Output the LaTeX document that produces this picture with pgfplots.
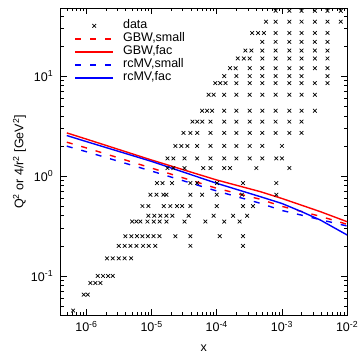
\documentclass[border=0pt]{standalone}
\usepackage{fontspec}
\setmainfont{Liberation Sans}
\usepackage{pgfplots}
\pgfplotsset{compat=1.18}
\pgfplotsset{
  lineleg/.style={legend image code/.code={\draw[##1, line width=1.8pt] (0pt,0pt) -- (38pt,0pt);}},
  markleg/.style={legend image code/.code={\draw[mark repeat=2,mark phase=2,##1] plot coordinates {(0pt,0pt) (19pt,0pt) (38pt,0pt)};}},
}
\begin{document}
\fontsize{12.5}{15}\selectfont
\begin{tikzpicture}
\begin{axis}[
  scale only axis, width=286.6pt, height=307.7pt,
  xmode=log, ymode=log,
  xmin=4e-7, xmax=1e-2, ymin=0.04, ymax=48,
  xtick={1e-6,1e-5,1e-4,1e-3,1e-2},
  xticklabels={10\textsuperscript{-6},10\textsuperscript{-5},10\textsuperscript{-4},10\textsuperscript{-3},10\textsuperscript{-2}},
  ytick={0.1,1,10},
  yticklabels={10\textsuperscript{-1},10\textsuperscript{0},10\textsuperscript{1}},
  minor xtick={5e-7,6e-7,7e-7,8e-7,9e-7,2e-6,3e-6,4e-6,5e-6,6e-6,7e-6,8e-6,9e-6,2e-5,3e-5,4e-5,5e-5,6e-5,7e-5,8e-5,9e-5,2e-4,3e-4,4e-4,5e-4,6e-4,7e-4,8e-4,9e-4,2e-3,3e-3,4e-3,5e-3,6e-3,7e-3,8e-3,9e-3},
  minor ytick={0.05,0.06,0.07,0.08,0.09,0.2,0.3,0.4,0.5,0.6,0.7,0.8,0.9,2,3,4,5,6,7,8,9,20,30,40},
  tick align=inside,
  major tick length=6.5pt, minor tick length=3.5pt,
  tick style={line width=0.6pt, black},
  axis line style={line width=0.8pt},
  yticklabel style={xshift=-3pt},
  xticklabel style={yshift=-1pt},
  xlabel={x},
  ylabel={Q\textsuperscript{2} or 4/r\textsuperscript{2} [GeV\textsuperscript{2}]},
  xlabel style={at={(axis description cs:0.5,-0.104)}, anchor=center},
  ylabel style={at={(axis description cs:-0.143,0.5)}, anchor=center},
  legend style={draw=none, fill=none, at={(rel axis cs:0.037,0.9704)}, anchor=north west,
    row sep=0pt, nodes={inner sep=0pt, text height=9.3pt, text depth=3.7pt},
    /tikz/every odd column/.append style={column sep=9pt}},
  legend cell align=left,
  lineleg,
]
\addplot[only marks, mark=x, mark size=2.6pt, black, mark options={line width=0.7pt}, markleg] coordinates {
(8e-4,45) (1.3e-3,45) (2e-3,45) (3.2e-3,45) (5e-3,45) (8e-3,45)
(5.7e-4,35) (8e-4,35) (1.3e-3,35) (2e-3,35) (3.2e-3,35) (5e-3,35) (8e-3,35)
(3.5e-4,27) (4.3e-4,27) (5.3e-4,27) (8e-4,27) (1.3e-3,27) (2e-3,27) (3.2e-3,27) (5e-3,27)
(5e-4,22) (8e-4,22) (1.3e-3,22) (2e-3,22) (3.2e-3,22) (5e-3,22)
(2.75e-4,18) (3.4e-4,18) (5e-4,18) (8e-4,18) (1.3e-3,18) (2e-3,18) (3.2e-3,18) (5e-3,18)
(2.1e-4,15) (2.6e-4,15) (3.2e-4,15) (5e-4,15) (8e-4,15) (1.3e-3,15) (2e-3,15) (3.2e-3,15) (5e-3,15)
(1.6e-4,12) (1.95e-4,12) (3.2e-4,12) (5e-4,12) (8e-4,12) (1.3e-3,12) (2e-3,12) (3.2e-3,12) (5e-3,12)
(1.3e-4,10) (2e-4,10) (3.2e-4,10) (5e-4,10) (8e-4,10) (1.3e-3,10) (2e-3,10) (5e-3,10)
(9.5e-5,8.5) (1.13e-4,8.5) (1.36e-4,8.5) (2e-4,8.5) (3.2e-4,8.5) (5e-4,8.5) (8e-4,8.5) (1.3e-3,8.5) (2e-3,8.5) (3.2e-3,8.5) (5e-3,8.5)
(7.5e-5,6.5) (8.95e-5,6.5) (1.3e-4,6.5) (2e-4,6.5) (3.2e-4,6.5) (5e-4,6.5) (8e-4,6.5) (1.3e-3,6.5) (2e-3,6.5) (3.2e-3,6.5)
(5.96e-5,4.5) (7.1e-5,4.5) (8.47e-5,4.5) (1.3e-4,4.5) (2e-4,4.5) (3.2e-4,4.5) (5e-4,4.5) (8e-4,4.5) (1.3e-3,4.5) (2e-3,4.5) (3.2e-3,4.5)
(4.23e-5,3.5) (5.03e-5,3.5) (6.0e-5,3.5) (8e-5,3.5) (1.3e-4,3.5) (2e-4,3.5) (3.2e-4,3.5) (5e-4,3.5) (8e-4,3.5) (1.3e-3,3.5) (2e-3,3.5)
(3.08e-5,2.7) (3.94e-5,2.7) (5.03e-5,2.7) (8e-5,2.7) (1.3e-4,2.7) (2e-4,2.7) (3.2e-4,2.7) (5e-4,2.7) (8e-4,2.7) (1.3e-3,2.7) (2e-3,2.7)
(2.32e-5,2) (2.86e-5,2) (3.54e-5,2) (5e-5,2) (8e-5,2) (1.3e-4,2) (2e-4,2) (3.2e-4,2) (5e-4,2) (1e-3,2)
(1.75e-5,1.5) (2.16e-5,1.5) (3.2e-5,1.5) (5e-5,1.5) (8e-5,1.5) (1.3e-4,1.5) (2e-4,1.5) (3.2e-4,1.5) (5e-4,1.5) (8.2e-4,1.5) (1e-3,1.5)
(1.75e-5,1.2) (2.16e-5,1.2) (3.2e-5,1.2) (6.2e-5,1.2) (8e-5,1.2) (1.3e-4,1.2) (1.6e-4,1.2) (4.05e-4,1.2) (1.3e-3,1.2)
(1.21e-5,0.85) (1.47e-5,0.85) (2.06e-5,0.85) (3.94e-5,0.85) (5e-5,0.85) (1.01e-4,0.85) (2.53e-4,0.85) (8.2e-4,0.85)
(9.6e-6,0.65) (1.19e-5,0.65) (1.52e-5,0.65) (1.69e-5,0.65) (3.94e-5,0.65) (5.96e-5,0.65) (1e-4,0.65) (2.44e-4,0.65) (8.2e-4,0.65)
(7.23e-6,0.5) (8.93e-6,0.5) (1.54e-5,0.5) (1.94e-5,0.5) (2.46e-5,0.5) (2.94e-5,0.5) (3.94e-5,0.5) (1e-4,0.5) (2.53e-4,0.5) (3.6e-4,0.5)
(8.93e-6,0.4) (1.1e-5,0.4) (1.36e-5,0.4) (1.69e-5,0.4) (2.08e-5,0.4) (3.71e-5,0.4) (8.95e-5,0.4) (1.78e-4,0.4) (2.92e-4,0.4)
(5.02e-6,0.35) (5.85e-6,0.35) (6.73e-6,0.35) (8.63e-6,0.35) (1.08e-5,0.35) (1.33e-5,0.35) (1.69e-5,0.35) (3.2e-5,0.35) (6.68e-5,0.35) (1.3e-4,0.35) (2.24e-4,0.35)
(3.96e-6,0.25) (4.9e-6,0.25) (5.96e-6,0.25) (7.23e-6,0.25) (8.77e-6,0.25) (1.07e-5,0.25) (1.32e-5,0.25) (2.32e-5,0.25) (3.94e-5,0.25) (1.11e-4,0.25) (2.53e-4,0.25)
(3.13e-6,0.2) (3.86e-6,0.2) (4.73e-6,0.2) (5.85e-6,0.2) (7.41e-6,0.2) (9.02e-6,0.2) (1.14e-5,0.2) (3.94e-5,0.2) (2.53e-4,0.2)
(2.07e-6,0.15) (2.53e-6,0.15) (3.13e-6,0.15) (3.86e-6,0.15) (4.85e-6,0.15)
(1.49e-6,0.1) (1.8e-6,0.1) (2.15e-6,0.1) (2.53e-6,0.1)
(1.15e-6,0.085) (1.37e-6,0.085) (1.64e-6,0.085)
(9.1e-7,0.065) (1.05e-6,0.065)
(6.25e-7,0.045)
};
\addlegendentry{data}
\addplot[red, line width=1.4pt, dash pattern=on 6pt off 9pt] coordinates {
(5e-7,2.18) (1e-6,1.91) (1e-5,1.2) (1e-4,0.753) (4.67e-4,0.585) (1e-3,0.497) (3.88e-3,0.395) (1e-2,0.329)
};
\addlegendentry{GBW,small}
\addplot[red, line width=1.4pt] coordinates {
(5e-7,2.70) (1e-6,2.34) (1e-5,1.445) (1e-4,0.912) (4.67e-4,0.697) (1e-3,0.596) (3.88e-3,0.44) (1e-2,0.349)
};
\addlegendentry{GBW,fac}
\addplot[blue, line width=1.4pt, dash pattern=on 6pt off 9pt] coordinates {
(5e-7,1.99) (1e-6,1.75) (1e-5,1.12) (1e-4,0.708) (4.67e-4,0.533) (1e-3,0.452) (3.88e-3,0.366) (1e-2,0.316)
};
\addlegendentry{rcMV,small}
\addplot[blue, line width=1.4pt] coordinates {
(5e-7,2.54) (1e-6,2.21) (1e-5,1.40) (1e-4,0.845) (4.67e-4,0.621) (1e-3,0.531) (2e-3,0.44) (3.88e-3,0.363) (1e-2,0.257)
};
\addlegendentry{rcMV,fac}
\end{axis}
\pgfresetboundingbox
\path[use as bounding box] ([shift={(-60.5pt,-38.3pt)}]current axis.south west) rectangle ([shift={(11.9pt,8pt)}]current axis.north east);
\end{tikzpicture}
\end{document}
